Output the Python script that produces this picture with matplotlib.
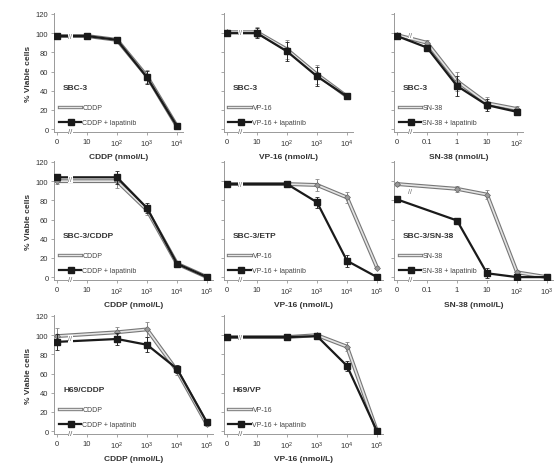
import numpy as np
import matplotlib
matplotlib.use("Agg")
import matplotlib.pyplot as plt

plt.rcParams['font.family'] = ['Liberation Sans', 'DejaVu Sans']
plt.rcParams['mathtext.fontset'] = 'custom'
plt.rcParams['mathtext.rm'] = 'Liberation Sans'
plt.rcParams['mathtext.it'] = 'Liberation Sans'
plt.rcParams['mathtext.bf'] = 'Liberation Sans:bold'

# tick labels
dose_ticks_cddp = ["0", "10", r"$10^2$", r"$10^3$", r"$10^4$", r"$10^5$"]
dose_ticks_sn38 = ["0", "0.1", "1", "10", r"$10^2$", r"$10^3$"]

# panel 1: SBC-3, CDDP
p1_pos = [0, 1, 2, 3, 4]
p1_gray = [97, 97, 93, 55, 3]
p1_black = [97, 97, 93, 54, 3]
p1_err = [2, 2, 3, 7, 1]

# panel 2: SBC-3, VP-16
p2_pos = [0, 1, 2, 3, 4]
p2_gray = [101, 101, 83, 57, 34]
p2_black = [100, 100, 81, 55, 34]
p2_err = [2, 5, 10, 10, 2]

# panel 3: SBC-3, SN-38
p3_pos = [0, 1, 2, 3, 4]
p3_gray = [98, 90, 50, 27, 21]
p3_black = [97, 85, 45, 25, 18]
p3_err = [2, 3, 10, 6, 3]

# panel 4: SBC-3/CDDP, CDDP
p4_pos = [0, 2, 3, 4, 5]
p4_gray = [100, 100, 70, 14, 0]
p4_black = [104, 104, 72, 14, 0]
p4_err = [3, 7, 5, 2, 1]

# panel 5: SBC-3/ETP, VP-16
p5_pos = [0, 2, 3, 4, 5]
p5_gray = [97, 97, 96, 83, 10]
p5_black = [97, 97, 78, 17, 0]
p5_err = [2, 2, 6, 6, 2]

# panel 6: SBC-3/SN-38, SN-38
p6_pos = [0, 2, 3, 4, 5]
p6_gray = [97, 92, 86, 5, 0]
p6_black = [81, 59, 4, 0, 0]
p6_err = [2, 3, 5, 2, 1]

# panel 7: H69/CDDP, CDDP
p7_pos = [0, 2, 3, 4, 5]
p7_gray = [99, 103, 106, 63, 7]
p7_black = [93, 96, 90, 65, 9]
p7_err = [8, 6, 8, 4, 2]

# panel 8: H69/VP, VP-16
p8_pos = [0, 2, 3, 4, 5]
p8_gray = [98, 98, 100, 88, 0]
p8_black = [98, 98, 99, 68, 0]
p8_err = [2, 3, 2, 5, 1]

W, H = 554, 464
fig = plt.figure(figsize=(W / 100, H / 100), dpi=100)

def rect(l, t, r, b):
    return [l / W, 1 - b / H, (r - l) / W, (b - t) / H]

rows = [(14, 133), (162, 281), (316, 435)]

def panel(col_left, row, npts, pos, gray, black, err, ticks, cell, drug, ylab):
    t, b = rows[row]
    right = col_left + 3 + (npts + 0.2) * 30
    ax = fig.add_axes(rect(col_left, t, right, b))
    ax.set_xlim(-0.1, npts + 0.2)
    ax.set_ylim(-3, 121)
    for s in ['top', 'right']:
        ax.spines[s].set_visible(False)
    for s in ['left', 'bottom']:
        ax.spines[s].set_color('#999999')
        ax.spines[s].set_linewidth(0.7)
    ax.set_xticks(range(npts + 1))
    ax.set_xticklabels(ticks[:npts + 1])
    ax.set_yticks(range(0, 121, 20))
    ax.tick_params(length=2, width=0.6, color='#999999', labelsize=5.5,
                   labelcolor='#333333', pad=2)
    if ylab:
        ax.set_ylabel("% Viable cells", fontsize=6, fontweight='bold',
                      color='#333333', labelpad=3)
    else:
        ax.set_yticklabels([])
    ax.set_xlabel(drug + " (nmol/L)", fontsize=6, fontweight='bold',
                  color='#333333', labelpad=3)

    # gray (drug alone): hollow line
    ax.errorbar(pos, gray, yerr=err, fmt='none', ecolor='#888888',
                elinewidth=0.7, capsize=1.5, capthick=0.6, zorder=2)
    ax.plot(pos, gray, color='#777777', lw=2.8, zorder=3,
            solid_capstyle='round', solid_joinstyle='round')
    ax.plot(pos, gray, color='#e4e4e4', lw=1.2, zorder=3.1,
            solid_capstyle='round', solid_joinstyle='round')
    ax.plot(pos, gray, ls='none', marker='D', ms=3, color='#999999',
            mec='#666666', mew=0.5, zorder=3.2)
    # black (drug + lapatinib)
    ax.errorbar(pos, black, yerr=err, fmt='none', ecolor='#222222',
                elinewidth=0.7, capsize=1.5, capthick=0.6, zorder=4)
    ax.plot(pos, black, color='#1a1a1a', lw=1.6, marker='s', ms=5,
            zorder=5)

    # axis breaks "//"
    ax.text(0.45, -3, "//", fontsize=5.5, color='#555555', ha='center',
            va='center', clip_on=False, zorder=6,
            bbox=dict(fc='white', ec='none', pad=0.2))
    yb = (gray[0] + black[0]) / 2
    ax.text(0.45, yb, "//", fontsize=5, color='#666666', ha='center',
            va='center', zorder=6, bbox=dict(fc='white', ec='none', pad=0.1))

    # inset label and legend
    ax.text(0.2, 43, cell, fontsize=6, fontweight='bold', color='#333333',
            ha='left', va='center')
    ax.plot([0.05, 0.8], [23, 23], color='#777777', lw=2.4, clip_on=False)
    ax.plot([0.05, 0.8], [23, 23], color='#e4e4e4', lw=1.0, clip_on=False)
    ax.text(0.85, 23, drug, fontsize=5, color='#444444', ha='left',
            va='center')
    ax.plot([0.05, 0.8], [7, 7], color='#1a1a1a', lw=1.6, clip_on=False)
    ax.plot([0.48], [7], marker='s', ms=4, color='#1a1a1a')
    ax.text(0.85, 7, drug + " + lapatinib", fontsize=5, color='#444444',
            ha='left', va='center')
    return ax

panel(54, 0, 4, p1_pos, p1_gray, p1_black, p1_err, dose_ticks_cddp,
      "SBC-3", "CDDP", True)
panel(224, 0, 4, p2_pos, p2_gray, p2_black, p2_err, dose_ticks_cddp,
      "SBC-3", "VP-16", False)
panel(394, 0, 4, p3_pos, p3_gray, p3_black, p3_err, dose_ticks_sn38,
      "SBC-3", "SN-38", False)
panel(54, 1, 5, p4_pos, p4_gray, p4_black, p4_err, dose_ticks_cddp,
      "SBC-3/CDDP", "CDDP", True)
panel(224, 1, 5, p5_pos, p5_gray, p5_black, p5_err, dose_ticks_cddp,
      "SBC-3/ETP", "VP-16", False)
panel(394, 1, 5, p6_pos, p6_gray, p6_black, p6_err, dose_ticks_sn38,
      "SBC-3/SN-38", "SN-38", False)
panel(54, 2, 5, p7_pos, p7_gray, p7_black, p7_err, dose_ticks_cddp,
      "H69/CDDP", "CDDP", True)
panel(224, 2, 5, p8_pos, p8_gray, p8_black, p8_err, dose_ticks_cddp,
      "H69/VP", "VP-16", False)

fig.savefig("out.png", dpi=100)
